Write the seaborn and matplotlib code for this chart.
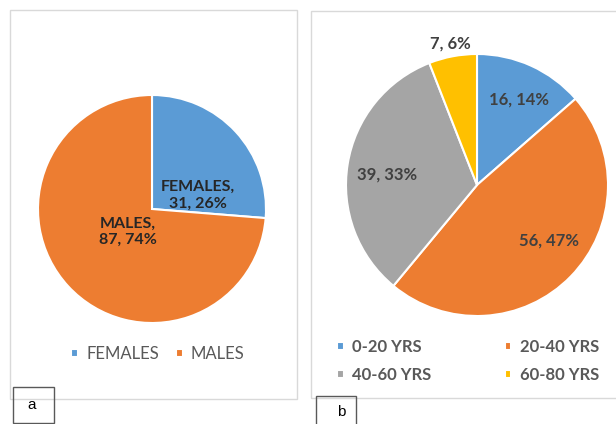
import numpy as np
import matplotlib
matplotlib.use("Agg")
import matplotlib.pyplot as plt
import seaborn as sns
from matplotlib.patches import Rectangle

# Data
sex_labels = ["FEMALES", "MALES"]
sex_counts = [31, 87]
sex_colors = ["#5B9BD5", "#ED7D31"]

age_labels = ["0-20 YRS", "20-40 YRS", "40-60 YRS", "60-80 YRS"]
age_counts = [16, 56, 39, 7]
age_colors = ["#5B9BD5", "#ED7D31", "#A5A5A5", "#FFC000"]

sns.set_theme(style="white")
plt.rcParams["font.family"] = ["Lato", "DejaVu Sans"]

W, H = 616, 424
fig = plt.figure(figsize=(W / 100, H / 100), dpi=100)


def px_axes(x0, y0, x1, y1):
    # pixel box (top-left origin) -> figure axes
    return fig.add_axes([x0 / W, 1 - y1 / H, (x1 - x0) / W, (y1 - y0) / H])


def px_rect(x0, y0, x1, y1, color, lw):
    fig.patches.append(Rectangle((x0 / W, 1 - y1 / H), (x1 - x0) / W, (y1 - y0) / H,
                                 transform=fig.transFigure, fill=False,
                                 edgecolor=color, linewidth=lw))


# panel frames
px_rect(10, 10, 297, 399, "#D9D9D9", 1.0)
px_rect(311, 11, 640, 398, "#D9D9D9", 1.0)

# ---- panel a ----
ax1 = px_axes(38, 95, 266, 323)
wedges1, _ = ax1.pie(sex_counts, colors=sex_colors, startangle=90, counterclock=False,
                     radius=1, wedgeprops=dict(edgecolor="white", linewidth=1.5))
ax1.set_xlim(-1.0, 1.0)
ax1.set_ylim(-1.0, 1.0)
total1 = sum(sex_counts)
pos1 = [(0.40, 0.12), (-0.21, -0.20)]
for lab, c, (x, y) in zip(sex_labels, sex_counts, pos1):
    ax1.text(x, y, f"{lab},\n{c}, {round(100 * c / total1)}%", ha="center", va="center",
             fontsize=11.5, fontweight="bold", color="#262626", linespacing=1.25)

fig.legend(wedges1, sex_labels, loc="center", bbox_to_anchor=(158 / W, 1 - 354 / H),
           ncol=2, frameon=False, fontsize=12, handlelength=0.4, handleheight=0.4,
           handletextpad=0.5, columnspacing=1.0, labelcolor="#595959")

# ---- panel b ----
ax2 = px_axes(346, 54, 608, 316)
wedges2, _ = ax2.pie(age_counts, colors=age_colors, startangle=90, counterclock=False,
                     radius=1, wedgeprops=dict(edgecolor="white", linewidth=1.5))
ax2.set_xlim(-1.0, 1.0)
ax2.set_ylim(-1.0, 1.0)
total2 = sum(age_counts)
pos2 = [(0.32, 0.65), (0.55, -0.42), (-0.69, 0.08), (-0.20, 1.08)]
for c, (x, y) in zip(age_counts, pos2):
    ax2.text(x, y, f"{c}, {round(100 * c / total2)}%", ha="center", va="center",
             fontsize=12, fontweight="bold", color="#404040")

# legend fills column-wise, so reorder to read row-wise
order = [0, 2, 1, 3]
fig.legend([wedges2[i] for i in order], [age_labels[i] for i in order],
           loc="center", bbox_to_anchor=(468 / W, 1 - 361 / H),
           ncol=2, frameon=False, prop=dict(size=12, weight="bold"),
           handlelength=0.4, handleheight=0.4, handletextpad=0.5,
           columnspacing=4.4, labelspacing=0.7, labelcolor="#595959")

# panel letters
px_rect(13, 387, 54, 423, "#595959", 1.0)
fig.text(32 / W, 1 - 405 / H, "a", ha="center", va="center", fontsize=11,
         family=["Liberation Sans", "DejaVu Sans"], color="black")
px_rect(316, 396, 356, 430, "#595959", 1.0)
fig.text(341 / W, 1 - 412 / H, "b", ha="center", va="center", fontsize=11,
         family=["Liberation Sans", "DejaVu Sans"], color="black")

fig.savefig("out.png", dpi=100)
